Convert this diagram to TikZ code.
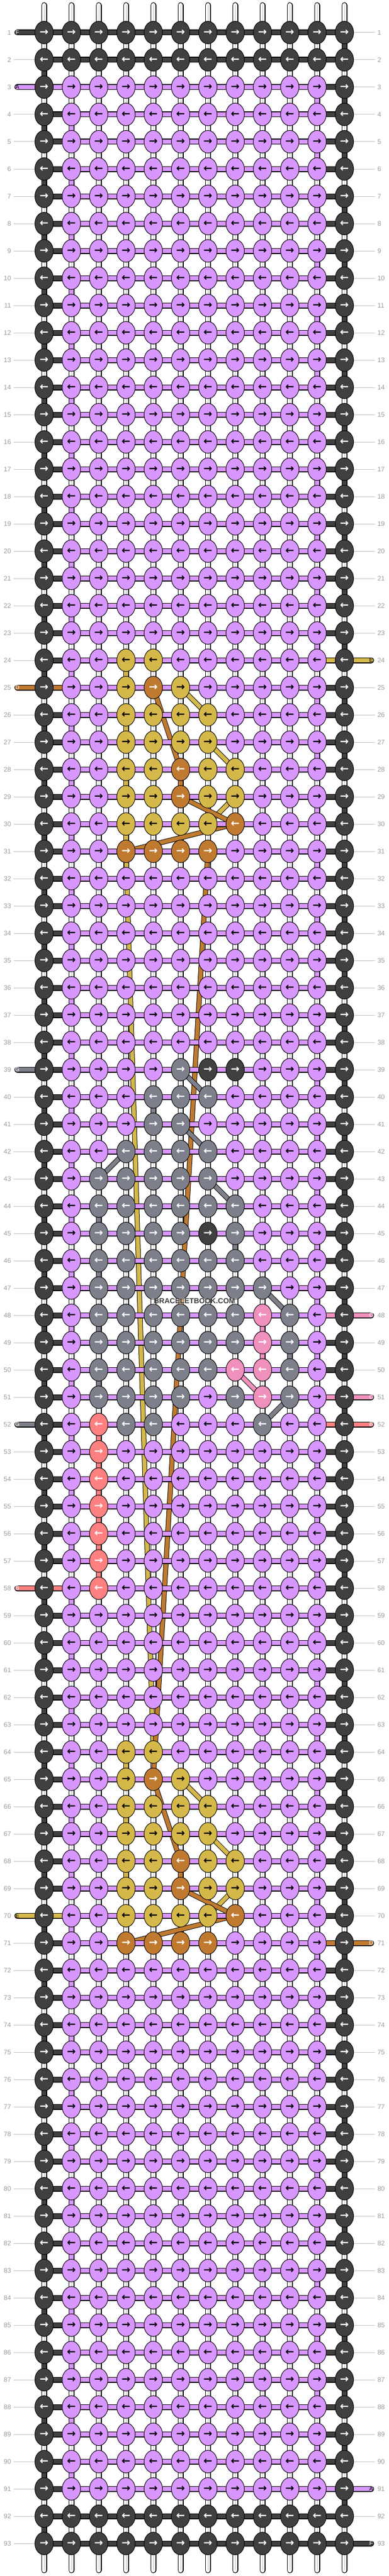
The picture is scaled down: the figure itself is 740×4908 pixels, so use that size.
\documentclass[tikz,border=0pt]{standalone}
\usepackage{fontspec}
\setmainfont{Liberation Sans}
\newfontfamily\arrowfont{DejaVu Sans}[BoldFont={DejaVu Sans Bold}]
\usetikzlibrary{shapes.geometric}
\definecolor{A}{HTML}{D896FF}
\definecolor{B}{HTML}{FF8080}
\definecolor{C}{HTML}{F090BC}
\definecolor{D}{HTML}{C07A30}
\definecolor{E}{HTML}{D4B84A}
\definecolor{F}{HTML}{404040}
\definecolor{G}{HTML}{7D808A}
\definecolor{W}{HTML}{FFFFFF}
\definecolor{rulegrey}{HTML}{BDBDBD}
\definecolor{numgrey}{HTML}{9A9A9A}
\definecolor{stampgrey}{HTML}{3C3C3C}
\pgfdeclarelayer{warp}
\pgfdeclarelayer{cross}
\pgfdeclarelayer{weft}
\pgfsetlayers{warp,cross,weft,main}
\tikzstyle{base}=[x=1pt, y=-1pt, inner sep=0pt, outer sep=0pt]
\tikzstyle{knot}=[draw=black, line width=1pt, ellipse, minimum width=35pt, minimum height=43pt, font=\arrowfont\bfseries\fontsize{20}{20}\selectfont]
\tikzstyle{strand}=[draw=black, line width=1.2pt, double distance=8.6pt]
\tikzstyle{slant}=[draw=black, line width=1pt, double distance=7.6pt]
\tikzstyle{num}=[text=numgrey, font=\fontsize{12.5}{13}\selectfont]
\tikzstyle{tag}=[font=\fontsize{11}{11}\selectfont]
\tikzstyle{numrule}=[draw=rulegrey, line width=1pt, shorten <=5pt]
\tikzset{
  inkA/.style={text=black}, inkB/.style={text=white}, inkC/.style={text=white},
  inkD/.style={text=white}, inkE/.style={text=black}, inkF/.style={text=white},
  inkG/.style={text=white}
}
\newcommand{\setcell}[4]{\foreach \c in {#4}{\expandafter\xdef\csname #1-#2-\c\endcsname{#3}}}
\newcommand{\getcell}[4]{\ifcsname #1-#2-#3\endcsname\edef\cur{\csname #1-#2-#3\endcsname}\else\edef\cur{#4}\fi}
\begin{document}
\begin{tikzpicture}[base]
    \useasboundingbox (0,0) rectangle (740,4908);
    % knots
    \foreach \r in {1,2,92,93} {\setcell{k}{\r}{F}{1,...,12}}
    \foreach \r in {3,...,91} {\setcell{k}{\r}{F}{1,12}}
    \foreach \r/\s in {24/0,64/40} {
        \pgfmathtruncatemacro{\ra}{24+\s}\setcell{k}{\ra}{E}{4,5}
        \pgfmathtruncatemacro{\ra}{25+\s}\setcell{k}{\ra}{E}{4,6}\setcell{k}{\ra}{D}{5}
        \pgfmathtruncatemacro{\ra}{26+\s}\setcell{k}{\ra}{E}{4,...,7}
        \pgfmathtruncatemacro{\ra}{27+\s}\setcell{k}{\ra}{E}{4,...,7}
        \pgfmathtruncatemacro{\ra}{28+\s}\setcell{k}{\ra}{E}{4,5,7,8}\setcell{k}{\ra}{D}{6}
        \pgfmathtruncatemacro{\ra}{29+\s}\setcell{k}{\ra}{E}{4,5,7,8}\setcell{k}{\ra}{D}{6}
        \pgfmathtruncatemacro{\ra}{30+\s}\setcell{k}{\ra}{E}{4,...,7}\setcell{k}{\ra}{D}{8}
        \pgfmathtruncatemacro{\ra}{31+\s}\setcell{k}{\ra}{D}{4,...,7}
    }
    \setcell{k}{39}{G}{6}\setcell{k}{39}{F}{7,8}
    \setcell{k}{40}{G}{5,6,7}
    \setcell{k}{41}{G}{5,6}
    \setcell{k}{42}{G}{4,...,7}
    \setcell{k}{43}{G}{3,...,7}
    \setcell{k}{44}{G}{3,...,8}
    \setcell{k}{45}{G}{3,4,5,6,8}\setcell{k}{45}{F}{7}
    \setcell{k}{46}{G}{3,...,8}
    \setcell{k}{47}{G}{3,...,9}
    \foreach \r in {48,49} {\setcell{k}{\r}{G}{3,...,8,10}\setcell{k}{\r}{C}{9}}
    \setcell{k}{50}{G}{3,...,7,10}\setcell{k}{50}{C}{8,9}
    \setcell{k}{51}{G}{3,...,6,8,10}\setcell{k}{51}{C}{9}
    \setcell{k}{52}{G}{4,5,9}
    \foreach \r in {52,...,58} {\setcell{k}{\r}{B}{3}}
    \foreach \r in {1,...,93} {
        \foreach \c in {1,...,12} {
            \getcell{k}{\r}{\c}{A}
            \pgfmathparse{int(mod(\r,2))}
            \ifnum\pgfmathresult=1 \def\glyph{→}\else\def\glyph{←}\fi
            \node [knot, fill=\cur, ink\cur] (k-\r-\c) at ({32+52*\c},{10+52*\r}) {\glyph};
        }
    }
    % warp
    \foreach \r in {2,4,...,92} {\setcell{v}{\r}{F}{1}}
    \foreach \r in {1,3,...,91} {\setcell{v}{\r}{F}{12}}
    \foreach \r in {4,6,...,90} {\setcell{v}{\r}{A}{2}}
    \foreach \r in {3,5,...,89} {\setcell{v}{\r}{A}{11}}
    \foreach \r in {24,26,28,30,64,66,68} {\setcell{v}{\r}{E}{4}}
    \foreach \r in {28,68} {\setcell{v}{\r}{D}{6}}
    \foreach \r in {44,46,48,50} {\setcell{v}{\r}{G}{3}}
    \setcell{v}{40}{G}{5}
    \setcell{v}{45}{G}{8}
    \setcell{v}{49}{G}{10}
    \foreach \r in {48,49} {\setcell{v}{\r}{C}{9}}
    \foreach \r in {52,...,57} {\setcell{v}{\r}{B}{3}}
    \begin{pgfonlayer}{warp}
        \foreach \c in {1,...,12} {
            \coordinate (top-\c) at ({32+52*\c},10);
            \coordinate (end-\c) at ({32+52*\c},4897);
            \draw [strand, double=W, line cap=round] (top-\c) -- (k-1-\c.center);
            \draw [strand, double=W, line cap=round] (k-93-\c.center) -- (end-\c);
            \draw [rulegrey, line width=1pt] (top-\c) -- (k-1-\c.center);
            \draw [rulegrey, line width=1pt] (k-93-\c.center) -- (end-\c);
            \foreach \r [evaluate=\r as \n using int(\r+1)] in {1,...,92} {
                \getcell{v}{\r}{\c}{W}
                \draw [strand, double=\cur] (k-\r-\c.center) -- (k-\n-\c.center);
                \if W\cur \draw [rulegrey, line width=1pt] (k-\r-\c.center) -- (k-\n-\c.center); \fi
            }
        }
    \end{pgfonlayer}
    % strands behind the weft
    \begin{pgfonlayer}{cross}
        \foreach \s in {0,40} {
            \pgfmathtruncatemacro{\ra}{25+\s}\pgfmathtruncatemacro{\rb}{26+\s}
            \pgfmathtruncatemacro{\rc}{27+\s}\pgfmathtruncatemacro{\rd}{28+\s}
            \pgfmathtruncatemacro{\re}{29+\s}\pgfmathtruncatemacro{\rf}{30+\s}
            \pgfmathtruncatemacro{\rg}{31+\s}
            \draw [slant, double=E] (k-\ra-6.center) -- (k-\rb-7.center);
            \draw [slant, double=E] (k-\rc-7.center) -- (k-\rd-8.center);
            \draw [slant, double=E] (k-\re-8.center) -- (k-\rf-7.center);
            \draw [slant, double=D] (k-\ra-5.center) -- (k-\rd-6.center);
            \draw [slant, double=D] (k-\re-6.center) -- (k-\rf-8.center);
            \draw [slant, double=D] (k-\rf-8.center) -- (k-\rg-4.center);
        }
        \draw [slant, double=E] (k-31-4.center) -- (k-64-5.center);
        \draw [slant, double=D] (k-31-7.center) -- (k-65-5.center);
        \draw [slant, double=G] (k-39-6.center) -- (k-40-7.center);
        \draw [slant, double=G] (k-41-6.center) -- (k-42-7.center);
        \draw [slant, double=G] (k-42-4.center) -- (k-43-3.center);
        \draw [slant, double=G] (k-43-7.center) -- (k-44-8.center);
        \draw [slant, double=G] (k-47-9.center) -- (k-48-10.center);
        \draw [slant, double=G] (k-51-10.center) -- (k-52-9.center);
        \draw [slant, double=C] (k-50-8.center) -- (k-51-9.center);
    \end{pgfonlayer}
    % weft
    \foreach \r in {1,2,92,93} {\setcell{h}{\r}{F}{1,...,11}}
    \foreach \r in {3,...,91} {\setcell{h}{\r}{F}{1,11}}
    \setcell{h}{3}{A}{1}
    \setcell{h}{25}{D}{1}
    \setcell{h}{58}{B}{1}
    \setcell{h}{70}{E}{1}
    \setcell{h}{24}{E}{11}
    \setcell{h}{48}{C}{11}
    \setcell{h}{51}{C}{11}
    \setcell{h}{52}{B}{11}
    \setcell{h}{71}{D}{11}
    \setcell{h}{91}{A}{11}
    \begin{pgfonlayer}{weft}
        \foreach \r in {1,...,93} {
            \foreach \c [evaluate=\c as \n using int(\c+1)] in {1,...,11} {
                \getcell{h}{\r}{\c}{A}
                \draw [strand, double=\cur] (k-\r-\c.center) -- (k-\r-\n.center);
            }
        }
    \end{pgfonlayer}
    % row numbers
    \foreach \r in {1,...,93} {
        \node [num, anchor=east] (nl-\r) at (21,{10+52*\r}) {\r};
        \node [num, anchor=west] (nr-\r) at (719,{10+52*\r}) {\r};
    }
    \foreach \r in {2,4,...,24,5,7,...,23,26,27,...,38,40,41,...,51,53,54,...,57,59,60,...,69,71,72,...,93} {
        \begin{pgfonlayer}{warp}
            \draw [numrule] (nl-\r.east) -- (k-\r-1);
        \end{pgfonlayer}
    }
    \foreach \r in {1,2,...,23,25,26,...,47,49,50,53,54,...,70,72,73,...,90,92} {
        \begin{pgfonlayer}{warp}
            \draw [numrule] (nr-\r.west) -- (k-\r-12);
        \end{pgfonlayer}
    }
    % loose ends
    \foreach \r/\l/\col in {1/F/white,3/A/black,25/D/white,39/G/white,52/G/white,58/B/white,70/E/black} {
        \node [tag, text=\col] (tl-\r) at (33,{10+52*\r}) {\l};
        \begin{pgfonlayer}{weft}
            \draw [strand, double=\l, line cap=round] (tl-\r.center) -- (k-\r-1.center);
        \end{pgfonlayer}
    }
    \foreach \r/\l/\col in {24/E/black,48/C/white,51/C/white,52/B/white,71/D/white,91/A/black,93/F/white} {
        \node [tag, text=\col] (tr-\r) at (707,{10+52*\r}) {\l};
        \begin{pgfonlayer}{weft}
            \draw [strand, double=\l, line cap=round] (tr-\r.center) -- (k-\r-12.center);
        \end{pgfonlayer}
    }
    \node [text=stampgrey, fill=white, fill opacity=0.35, text opacity=1, inner xsep=5pt, inner ysep=1pt, font=\bfseries\fontsize{14}{14}\selectfont] (stamp) at (370.5,2479) {BRACELETBOOK.COM};
\end{tikzpicture}
\end{document}
